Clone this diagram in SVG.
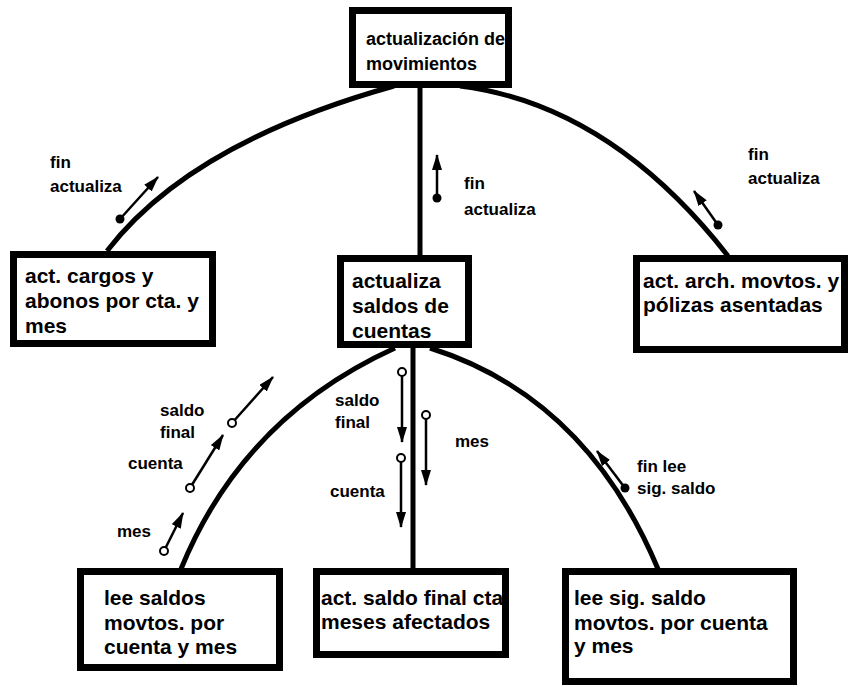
<svg xmlns="http://www.w3.org/2000/svg" width="854" height="687" viewBox="0 0 854 687">
<style>
.box{fill:#fff;stroke:#000;stroke-width:7}
.nt{font-family:"Liberation Sans",Arial,sans-serif;font-weight:bold;font-size:21px;fill:#000}
.tt{font-family:"Liberation Sans",Arial,sans-serif;font-weight:bold;font-size:18px;fill:#000}
.lb{font-family:"Liberation Sans",Arial,sans-serif;font-weight:bold;font-size:17px;fill:#000}
.con{fill:none;stroke:#000;stroke-width:5}
.msg{fill:none;stroke:#000;stroke-width:2.5;marker-end:url(#ah)}
.dot{fill:#000}
.ring{fill:#fff;stroke:#000;stroke-width:2}
</style>
<defs>
<marker id="ah" markerUnits="userSpaceOnUse" markerWidth="16" markerHeight="10" refX="15" refY="5" orient="auto">
<path d="M0,0 L16,5 L0,10 z" fill="#000"/>
</marker>
</defs>
<rect width="854" height="687" fill="#fff"/>
<g id="connectors">
<path class="con" d="M420,86 L420,256"/>
<path class="con" d="M413,346 L413,569"/>
<path class="con" d="M107,251 Q190,143 394,86"/>
<path class="con" d="M460,86 Q610,105 728,256"/>
<path class="con" d="M395,348 Q243,417 181,569"/>
<path class="con" d="M430,348 Q586,397 658,569"/>
</g>
<g id="messages">
<line class="msg" x1="120" y1="219" x2="158" y2="177"/>
<circle class="dot" cx="120" cy="219" r="4.5"/>
<text class="lb" x="50" y="168">fin</text>
<text class="lb" x="50" y="192">actualiza</text>
<line class="msg" x1="437" y1="198" x2="437" y2="155"/>
<circle class="dot" cx="437" cy="198" r="4.5"/>
<text class="lb" x="464" y="189">fin</text>
<text class="lb" x="464" y="215">actualiza</text>
<line class="msg" x1="718" y1="225" x2="694" y2="191"/>
<circle class="dot" cx="718" cy="225" r="4.5"/>
<text class="lb" x="748" y="160">fin</text>
<text class="lb" x="748" y="184">actualiza</text>
<line class="msg" x1="232" y1="423" x2="273" y2="377"/>
<circle class="ring" cx="232" cy="423" r="4"/>
<text class="lb" x="160" y="416">saldo</text>
<text class="lb" x="160" y="438">final</text>
<line class="msg" x1="190" y1="488" x2="223" y2="435"/>
<circle class="ring" cx="190" cy="488" r="4"/>
<text class="lb" x="128" y="469">cuenta</text>
<line class="msg" x1="164" y1="551" x2="183" y2="513"/>
<circle class="ring" cx="164" cy="551" r="4"/>
<text class="lb" x="117" y="537">mes</text>
<line class="msg" x1="402" y1="372" x2="402" y2="442"/>
<circle class="ring" cx="402" cy="372" r="4"/>
<text class="lb" x="335" y="406">saldo</text>
<text class="lb" x="335" y="428">final</text>
<line class="msg" x1="401" y1="458" x2="401" y2="527"/>
<circle class="ring" cx="401" cy="458" r="4"/>
<text class="lb" x="330" y="497">cuenta</text>
<line class="msg" x1="426" y1="415" x2="426" y2="485"/>
<circle class="ring" cx="426" cy="415" r="4"/>
<text class="lb" x="455" y="447">mes</text>
<line class="msg" x1="625" y1="488" x2="597" y2="451"/>
<circle class="dot" cx="625" cy="488" r="4.5"/>
<text class="lb" x="637" y="472">fin lee</text>
<text class="lb" x="637" y="494">sig. saldo</text>
</g>
<g id="n-top">
<rect class="box" x="352.5" y="10.5" width="156" height="74"/>
<text class="tt" x="366" y="45">actualización de</text>
<text class="tt" x="366" y="70">movimientos</text>
</g>
<g id="n-left">
<rect class="box" x="13.5" y="254.5" width="199" height="89"/>
<text class="nt" x="25" y="283">act. cargos y</text>
<text class="nt" x="25" y="308">abonos por cta. y</text>
<text class="nt" x="25" y="333">mes</text>
</g>
<g id="n-center">
<rect class="box" x="340.5" y="258.5" width="128" height="86"/>
<text class="nt" x="352" y="288">actualiza</text>
<text class="nt" x="352" y="313">saldos de</text>
<text class="nt" x="352" y="338">cuentas</text>
</g>
<g id="n-right">
<rect class="box" x="636.5" y="258.5" width="208" height="91"/>
<text class="nt" x="643" y="288">act. arch. movtos. y</text>
<text class="nt" x="643" y="312">pólizas asentadas</text>
</g>
<g id="n-bl">
<rect class="box" x="80.5" y="571.5" width="199" height="96"/>
<text class="nt" x="104" y="605">lee saldos</text>
<text class="nt" x="104" y="630">movtos. por</text>
<text class="nt" x="104" y="654">cuenta y mes</text>
</g>
<g id="n-bc">
<rect class="box" x="316.5" y="571.5" width="189" height="83"/>
<text class="nt" x="321" y="605">act. saldo final cta.</text>
<text class="nt" x="321" y="629">meses afectados</text>
</g>
<g id="n-br">
<rect class="box" x="565.5" y="571.5" width="228" height="110"/>
<text class="nt" x="574" y="605">lee sig. saldo</text>
<text class="nt" x="574" y="630">movtos. por cuenta</text>
<text class="nt" x="574" y="653">y mes</text>
</g>
</svg>
